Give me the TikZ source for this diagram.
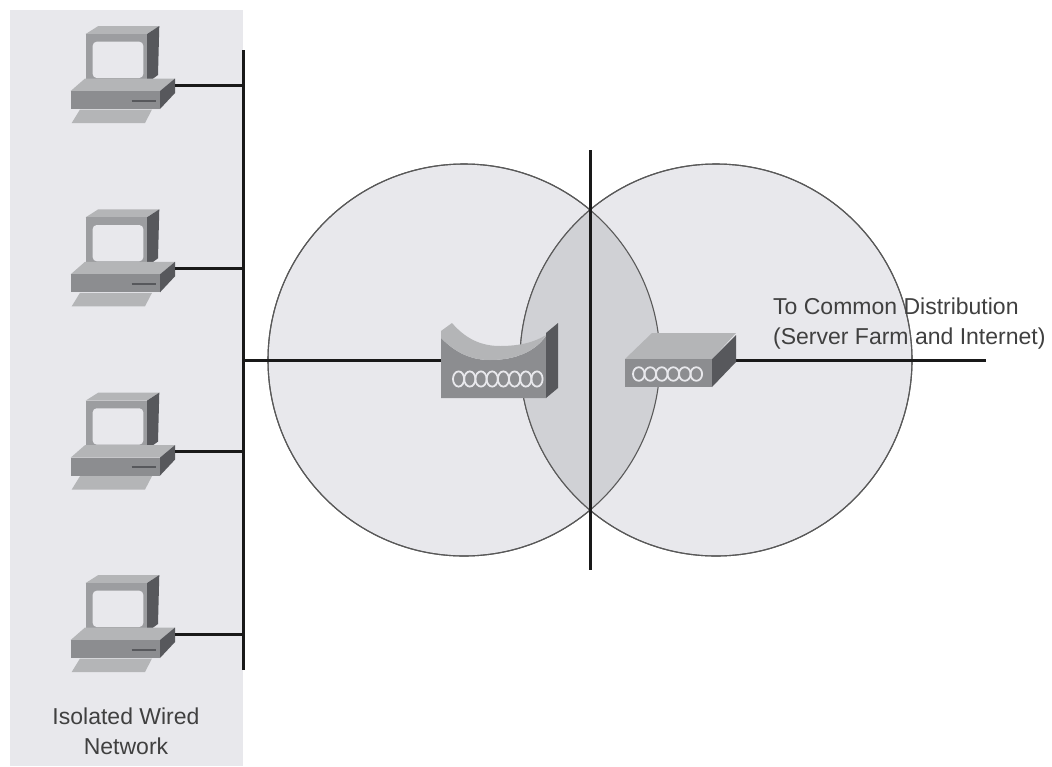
\documentclass[tikz,border=0pt]{standalone}
\usepackage{fontspec}
\setmainfont{Liberation Sans}
\usetikzlibrary{positioning}
\definecolor{panelgray}{HTML}{E8E8EC}
\definecolor{overlapgray}{HTML}{D0D1D5}
\definecolor{topgray}{HTML}{B4B5B7}
\definecolor{frontgray}{HTML}{8C8D90}
\definecolor{monitorgray}{HTML}{9C9DA0}
\definecolor{sidegray}{HTML}{57585C}
\begin{document}
\begin{tikzpicture}[x=1pt,y=-1pt]
\tikzset{
  wire/.style={line width=3pt,black!90},
  cell/.style={circle,draw=black!65,line width=1.1pt,minimum size=392pt,inner sep=0pt},
  caption/.style={font=\fontsize{23}{30}\selectfont,text=black!75,align=left,inner sep=0pt},
  loopring/.style={draw=panelgray,line width=1.8pt},
  workstation/.pic={
    \fill[topgray] (85.7,34) -- (98.3,26) -- (159.3,26) -- (146.7,34) -- cycle;
    \fill[monitorgray] (85.7,34) rectangle (147,83);
    \fill[sidegray] (147,34) -- (159.3,26) -- (158,75) -- (147,83) -- cycle;
    \fill[panelgray,rounded corners=4pt] (92.7,41.7) rectangle (143.3,78);
    \fill[sidegray] (90,83) rectangle (150,86);
    \fill[topgray] (70.7,91) -- (85,78.5) -- (175,78.5) -- (160,91) -- cycle;
    \fill[frontgray] (70.7,91) rectangle (160,109);
    \fill[sidegray] (160,91) -- (175,78.5) -- (175,93) -- (160,109) -- cycle;
    \draw[sidegray,line width=2pt] (131.7,100.7) -- (156,100.7);
    \fill[topgray] (80,109.5) -- (152,109.5) -- (145,123) -- (71.7,123) -- cycle;
    \coordinate (-port) at (175,85);
  }
}
% panel and cells
\useasboundingbox (0,0) rectangle (1052,766);
\fill[white] (0,0) rectangle (1052,766);
\fill[panelgray] (10,10) rectangle (243,766);
\node[cell,fill=panelgray](cellA) at (464,360){};
\node[cell,fill=panelgray](cellB) at (716,360){};
\begin{scope}
\clip (716,360) circle (196);
\fill[overlapgray] (464,360) circle (196);
\end{scope}
\node[cell](cellAline) at (464,360){};
\node[cell](cellBline) at (716,360){};
% wired side
\pic (pcA) at (0,0) {workstation};
\pic (pcB) at (0,183.3) {workstation};
\pic (pcC) at (0,366.6) {workstation};
\pic (pcD) at (0,549) {workstation};
\coordinate (bustop) at (243,50);
\coordinate (busbot) at (243,670);
\coordinate (busmid) at (243,360);
\draw[wire] (bustop) -- (busbot);
\foreach \n in {pcA,pcB,pcC,pcD}
  \draw[wire] (\n-port) -- (\n-port -| bustop);
% wireless side
\coordinate (apport) at (441,360);
\coordinate (hubport) at (736,360);
\coordinate (uplink) at (986,360);
\coordinate (divtop) at (590,150);
\coordinate (divbot) at (590,570);
\draw[wire] (divtop) -- (divbot);
\draw[wire] (busmid) -- (apport);
\draw[wire] (hubport) -- (uplink);
% access point
\fill[frontgray] (441,338) .. controls (455,352) and (470,360) .. (490,360) .. controls (515,360) and (535,352) .. (546,336) -- (546,398) -- (441,398) -- cycle;
\fill[topgray] (441,338) -- (441,331) -- (452,323) .. controls (465,338) and (480,346) .. (500,346) .. controls (520,346) and (535,342) .. (546,335) .. controls (535,352) and (515,360) .. (490,360) .. controls (470,360) and (455,352) .. (441,338) -- cycle;
\fill[sidegray] (546,333) -- (558,323) -- (558,388) -- (546,398) -- cycle;
\foreach \i in {0,...,7}
  \draw[loopring] (458.6+\i*11.2,379) ellipse (5.6 and 7.6);
% hub
\fill[topgray] (625,359) -- (652,333) -- (736,333) -- (712,359) -- cycle;
\fill[frontgray] (625,359) rectangle (712,387);
\fill[sidegray] (712,359) -- (736,335) -- (736,362) -- (712,387) -- cycle;
\foreach \i in {0,...,5}
  \draw[loopring] (638.8+\i*11.5,374) ellipse (5.8 and 6.8);
% labels
\node[caption,anchor=north west](uplinktext) at (773,298){To Common Distribution\\(Server Farm and Internet)};
\node[caption,align=center,anchor=north](wiredtext) at (126,708){Isolated Wired\\Network};
\end{tikzpicture}
\end{document}
